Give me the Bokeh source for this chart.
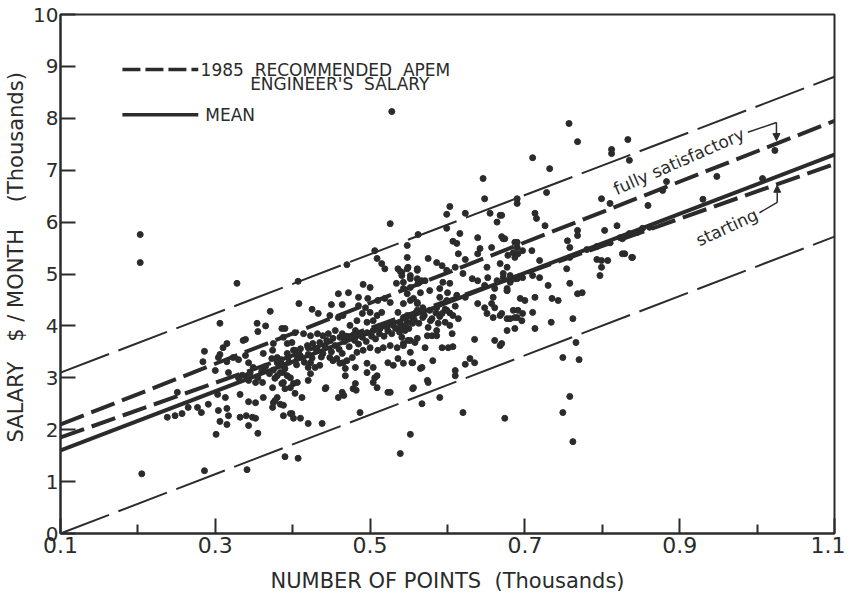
from bokeh.plotting import figure
from bokeh.models import Range1d, FixedTicker, Label, Arrow, NormalHead
from bokeh.embed import file_html
from bokeh.resources import INLINE

INK = "#2b2b2b"
FONT = "DejaVu Sans"
SP = "\u00a0"

# ---- axes ----
x_ticks = [0.1, 0.3, 0.5, 0.7, 0.9, 1.1]
x_minor = [0.2, 0.4, 0.6, 0.8, 1.0]
y_ticks = [0, 1, 2, 3, 4, 5, 6, 7, 8, 9, 10]

# ---- reference lines (values at x = 0.1 and x = 1.1) ----
line_x = [0.1, 1.1]
upper_band = [3.1, 8.8]
lower_band = [0.0, 5.72]
mean_line = [1.6, 7.3]
apem_full = [2.1, 7.95]
apem_start = [1.85, 7.12]

# ---- scatter points ----
sparse_pts = [
    (0.203, 5.76), (0.203, 5.22), (0.205, 1.15), (0.528, 8.13), (0.526, 5.97), (0.646, 6.84),
    (0.648, 6.45), (0.71, 7.24), (0.732, 7.03), (0.728, 6.57), (0.69, 6.45), (0.69, 6.36),
    (0.799, 6.45), (0.81, 6.36), (0.757, 7.9), (0.768, 7.55), (0.812, 7.4), (0.812, 7.32),
    (0.833, 7.59), (0.835, 7.19), (0.883, 6.78), (0.878, 6.61), (0.859, 6.32), (0.948, 6.88),
    (0.93, 6.44), (1.007, 6.84), (1.023, 7.38), (0.829, 5.39), (0.839, 5.32), (0.823, 5.7),
    (0.835, 5.78), (0.845, 5.8), (0.852, 5.88), (0.861, 5.9), (0.328, 4.82), (0.506, 5.45),
    (0.286, 1.21), (0.341, 1.23), (0.39, 1.48), (0.407, 1.45), (0.539, 1.54), (0.762, 1.77),
    (0.749, 2.33), (0.758, 2.64), (0.674, 2.22), (0.62, 2.33), (0.552, 1.91),
]

left_pts = [
    (0.371, 4.28), (0.306, 4.05), (0.365, 4.0), (0.355, 3.89), (0.39, 3.95), (0.339, 3.74),
    (0.315, 3.66), (0.31, 3.58), (0.286, 3.51), (0.306, 3.45), (0.284, 3.31), (0.315, 3.31),
    (0.33, 3.35), (0.343, 3.29), (0.362, 3.47), (0.373, 3.37), (0.38, 3.29), (0.388, 3.24),
    (0.394, 3.39), (0.384, 3.10), (0.393, 3.04), (0.377, 2.99), (0.388, 2.91), (0.397, 2.81),
    (0.3, 3.14), (0.317, 3.10), (0.341, 3.04), (0.343, 2.95), (0.33, 3.0), (0.352, 2.91),
    (0.361, 2.91), (0.251, 2.72), (0.303, 2.68), (0.313, 2.62), (0.332, 2.68), (0.343, 2.54),
    (0.352, 2.52), (0.362, 2.62), (0.377, 2.56), (0.374, 2.43), (0.384, 2.49), (0.388, 2.27),
    (0.291, 2.49), (0.277, 2.43), (0.282, 2.33), (0.265, 2.43), (0.304, 2.37), (0.315, 2.41),
    (0.317, 2.27), (0.257, 2.31), (0.248, 2.27), (0.238, 2.24), (0.332, 2.24), (0.34, 2.27),
    (0.348, 2.24), (0.352, 2.22), (0.306, 2.16), (0.315, 2.1), (0.343, 2.08), (0.301, 1.91),
    (0.355, 1.93), (0.388, 3.78), (0.393, 3.66), (0.397, 2.31), (0.401, 2.22),
    (0.323, 3.39), (0.339, 3.43), (0.304, 3.39), (0.349, 3.2), (0.362, 3.18), (0.401, 2.89),
    (0.336, 3.72), (0.354, 4.05),
]

mid_pts = [
    (0.548, 5.32), (0.509, 5.3), (0.515, 5.2), (0.47, 5.18), (0.519, 5.1), (0.549, 5.13),
    (0.561, 5.1), (0.539, 5.05), (0.541, 4.97), (0.407, 4.86), (0.534, 4.82), (0.543, 4.84),
    (0.552, 4.91), (0.562, 4.82), (0.491, 4.8), (0.5, 4.74), (0.459, 4.62), (0.472, 4.64),
    (0.485, 4.55), (0.497, 4.53), (0.51, 4.49), (0.519, 4.53), (0.526, 4.45), (0.548, 4.62),
    (0.556, 4.53), (0.561, 4.43), (0.408, 4.43), (0.45, 4.41), (0.464, 4.41), (0.485, 4.39),
    (0.494, 4.35), (0.425, 4.32), (0.433, 4.24), (0.448, 4.2), (0.459, 4.16), (0.465, 4.2),
    (0.49, 4.24), (0.5, 4.26), (0.509, 4.2), (0.515, 4.26), (0.536, 4.26), (0.543, 4.16),
    (0.552, 4.2), (0.561, 4.3), (0.483, 4.1), (0.496, 4.07), (0.504, 4.1), (0.474, 4.01),
    (0.481, 3.91), (0.386, 3.95), (0.403, 3.87), (0.414, 3.85), (0.423, 3.81), (0.432, 3.85),
    (0.439, 3.81), (0.446, 3.85), (0.455, 3.91), (0.464, 3.85), (0.47, 3.78),
    (0.38, 3.39), (0.393, 3.47), (0.401, 3.53), (0.41, 3.56), (0.419, 3.62), (0.426, 3.66),
    (0.435, 3.68), (0.444, 3.72), (0.452, 3.76), (0.461, 3.78), (0.47, 3.8), (0.478, 3.82),
    (0.487, 3.85), (0.496, 3.87), (0.504, 3.91), (0.513, 3.95), (0.522, 3.97), (0.53, 4.01),
    (0.539, 4.05), (0.548, 4.07), (0.555, 4.1),
    (0.42, 3.58), (0.432, 3.53), (0.439, 3.47), (0.448, 3.39), (0.457, 3.37), (0.464, 3.47),
    (0.47, 3.33), (0.477, 3.39), (0.483, 3.49), (0.491, 3.53), (0.5, 3.58), (0.51, 3.53),
    (0.517, 3.58), (0.526, 3.62), (0.535, 3.58), (0.543, 3.66), (0.552, 3.72), (0.561, 3.76),
    (0.399, 3.68), (0.403, 3.53), (0.406, 3.39), (0.375, 3.66), (0.374, 3.53), (0.38, 3.33),
    (0.386, 3.24), (0.423, 3.29), (0.429, 3.2), (0.461, 3.28), (0.468, 3.18), (0.468, 3.04),
    (0.496, 3.28), (0.504, 3.2), (0.509, 3.04), (0.504, 2.91), (0.509, 2.81), (0.536, 3.37),
    (0.53, 3.24), (0.543, 3.28), (0.554, 3.29), (0.388, 3.1), (0.397, 3.0), (0.406, 2.91),
    (0.423, 3.08), (0.42, 2.95), (0.38, 3.04), (0.386, 2.89), (0.39, 2.79), (0.403, 2.7),
    (0.412, 2.62), (0.374, 2.81), (0.38, 2.62), (0.375, 2.52), (0.388, 2.47), (0.399, 2.31),
    (0.443, 2.81), (0.459, 2.62), (0.466, 2.66), (0.481, 2.89), (0.482, 2.76), (0.523, 2.72),
    (0.556, 2.81), (0.487, 2.33), (0.41, 2.22), (0.42, 2.12), (0.438, 2.12),
    (0.42, 3.2), (0.435, 3.24), (0.452, 3.33), (0.465, 3.29), (0.481, 3.2), (0.496, 3.1),
    (0.506, 3.0), (0.523, 3.29), (0.565, 3.18), (0.574, 2.95), (0.526, 2.72), (0.442, 2.79),
    (0.464, 2.72), (0.478, 2.79), (0.536, 5.1), (0.541, 5.03), (0.561, 4.91), (0.567, 4.87),
]

core_pts = [
    (0.335, 3.05), (0.345, 3.1), (0.355, 3.0), (0.36, 3.12), (0.365, 3.22), (0.37, 3.08),
    (0.375, 3.15), (0.385, 3.35), (0.39, 3.18), (0.395, 3.3), (0.405, 3.25), (0.41, 3.42),
    (0.415, 3.3), (0.42, 3.45), (0.425, 3.38), (0.43, 3.55), (0.437, 3.4), (0.442, 3.6),
    (0.45, 3.5), (0.455, 3.62), (0.46, 3.55), (0.467, 3.7), (0.473, 3.6), (0.48, 3.72),
    (0.485, 3.65), (0.49, 3.78), (0.495, 3.7), (0.502, 3.8), (0.507, 3.75), (0.512, 3.85),
    (0.518, 3.8), (0.523, 3.9), (0.528, 3.85), (0.533, 3.95), (0.538, 3.88), (0.545, 4.0),
    (0.55, 3.95), (0.557, 4.12), (0.563, 4.05), (0.57, 4.2), (0.578, 4.1), (0.585, 4.25),
    (0.59, 4.18), (0.597, 4.32), (0.603, 4.25), (0.61, 4.38),
]

right_mid_pts = [
    (0.603, 6.3), (0.599, 6.15), (0.623, 6.17), (0.655, 6.17), (0.668, 6.13), (0.664, 6.0),
    (0.562, 5.76), (0.599, 5.88), (0.616, 5.78), (0.607, 5.63), (0.612, 5.59), (0.639, 5.7),
    (0.67, 5.72), (0.674, 5.68), (0.642, 5.49), (0.639, 5.39), (0.657, 5.51), (0.687, 5.61),
    (0.69, 5.51), (0.685, 5.41), (0.691, 5.39), (0.548, 5.55), (0.614, 5.39), (0.575, 5.3),
    (0.586, 5.22), (0.593, 5.16), (0.623, 5.28), (0.651, 5.13), (0.668, 5.2), (0.677, 5.13),
    (0.599, 5.07), (0.61, 5.13), (0.62, 5.01), (0.632, 4.91), (0.639, 4.87), (0.548, 5.1),
    (0.561, 5.07), (0.552, 4.97), (0.562, 4.87), (0.571, 4.87), (0.594, 4.84), (0.603, 4.82),
    (0.652, 4.93), (0.664, 4.87), (0.672, 4.93), (0.681, 4.84), (0.69, 4.91), (0.648, 4.78),
    (0.661, 4.72), (0.677, 4.72), (0.543, 4.72), (0.552, 4.74), (0.565, 4.64), (0.577, 4.68),
    (0.59, 4.72), (0.6, 4.64), (0.612, 4.59), (0.623, 4.55), (0.59, 4.55), (0.599, 4.49),
    (0.677, 4.68), (0.659, 4.55), (0.657, 4.43), (0.661, 4.35), (0.639, 4.43), (0.648, 4.35),
    (0.651, 4.24), (0.659, 4.16), (0.668, 4.2), (0.677, 4.14), (0.687, 4.16), (0.691, 4.3),
    (0.543, 4.43), (0.552, 4.49), (0.561, 4.45), (0.568, 4.35), (0.577, 4.3), (0.586, 4.35),
    (0.593, 4.24), (0.599, 4.3), (0.607, 4.2), (0.614, 4.14), (0.548, 4.2), (0.558, 4.24),
    (0.568, 4.16), (0.58, 4.14), (0.588, 4.05), (0.597, 4.07), (0.603, 4.01), (0.555, 4.05),
    (0.575, 3.97), (0.586, 3.91), (0.539, 3.97), (0.545, 3.91), (0.541, 3.78), (0.549, 3.72),
    (0.543, 3.62), (0.552, 3.49), (0.574, 3.81), (0.58, 3.81), (0.586, 3.81), (0.606, 3.85),
    (0.558, 3.68), (0.571, 3.58), (0.593, 3.58), (0.601, 3.58), (0.607, 3.6), (0.635, 3.74),
    (0.661, 3.72), (0.668, 3.62), (0.555, 3.29), (0.581, 3.33), (0.567, 3.2), (0.623, 3.26),
    (0.629, 3.37), (0.635, 3.29), (0.61, 3.14), (0.61, 3.04), (0.575, 2.91), (0.555, 2.79),
    (0.59, 2.62), (0.567, 2.5),
]

right_pts = [
    (0.67, 6.13), (0.713, 6.17), (0.715, 6.07), (0.726, 5.93), (0.768, 5.84), (0.768, 5.74),
    (0.803, 5.84), (0.819, 5.93), (0.672, 5.68), (0.69, 5.61), (0.678, 5.36), (0.687, 5.32),
    (0.697, 5.45), (0.709, 5.45), (0.755, 5.64), (0.758, 5.51), (0.719, 5.26), (0.754, 5.1),
    (0.758, 5.32), (0.793, 5.28), (0.799, 5.26), (0.799, 5.13), (0.797, 4.97), (0.807, 5.26),
    (0.826, 5.39), (0.838, 5.32), (0.672, 5.01), (0.681, 4.97), (0.687, 4.91), (0.697, 4.93),
    (0.71, 4.97), (0.719, 4.93), (0.73, 4.78), (0.758, 4.82), (0.677, 4.68), (0.694, 4.53),
    (0.7, 4.49), (0.713, 4.55), (0.735, 4.53), (0.743, 4.49), (0.768, 4.62), (0.774, 4.64),
    (0.67, 4.24), (0.685, 4.3), (0.69, 4.16), (0.697, 4.24), (0.681, 4.14), (0.696, 4.1),
    (0.71, 4.26), (0.677, 3.91), (0.687, 3.95), (0.713, 3.95), (0.734, 4.07), (0.762, 4.14),
    (0.67, 3.66), (0.766, 3.68), (0.749, 3.39), (0.77, 3.35), (0.78, 5.47), (0.793, 5.53),
    (0.81, 5.6), (0.826, 5.68),
]

# ---- legend / annotation geometry (data units) ----
legend_line_x = [0.18, 0.278]
legend_dash_y = 8.94
legend_dash_y2 = 8.67
legend_mean_y = 8.07
full_bracket_x = [0.988, 1.025]
full_bracket_y = [7.73, 7.92]
full_arrow_tip = 7.57
start_bracket_x = [1.003, 1.026]
start_bracket_y = [6.18, 6.38]
start_arrow_tip = 6.71

all_pts = sparse_pts + left_pts + mid_pts + core_pts + right_mid_pts + right_pts
px = [p[0] for p in all_pts]
py = [p[1] for p in all_pts]

p = figure(width=845, height=600, output_backend="svg", toolbar_location=None,
           x_range=Range1d(0.1, 1.1), y_range=Range1d(0, 10),
           min_border_left=60, min_border_right=11, min_border_top=14, min_border_bottom=67,
           background_fill_color="white", border_fill_color="white")
p.grid.visible = False
p.outline_line_color = INK
p.outline_line_width = 2

# axes
p.xaxis.ticker = FixedTicker(ticks=x_ticks, minor_ticks=x_minor)
p.yaxis.ticker = FixedTicker(ticks=y_ticks)
for ax in (p.xaxis, p.yaxis):
    ax.axis_line_color = INK
    ax.axis_line_width = 2
    ax.major_tick_line_color = INK
    ax.major_tick_line_width = 2
    ax.major_tick_in = 15
    ax.major_tick_out = 0
    ax.major_label_text_font = FONT
    ax.major_label_text_color = INK
    ax.axis_label_text_font = FONT
    ax.axis_label_text_color = INK
    ax.axis_label_text_font_style = "normal"
p.xaxis.minor_tick_line_color = INK
p.xaxis.minor_tick_line_width = 2
p.xaxis.minor_tick_in = 9
p.xaxis.minor_tick_out = 0
p.yaxis.minor_tick_line_color = None
p.xaxis.major_label_text_font_size = "22px"
p.xaxis.major_label_standoff = 3
p.xaxis.axis_label = "NUMBER" + SP + "OF" + SP + "POINTS" + SP * 2 + "(Thousands)"
p.xaxis.axis_label_text_font_size = "21px"
p.xaxis.axis_label_standoff = 13
p.yaxis.major_label_text_font_size = "20px"
p.yaxis.major_label_standoff = 2
p.yaxis.axis_label = (SP * 5 + "SALARY" + SP * 3 + "$" + SP + "/" + SP + "MONTH"
                      + SP * 4 + "(Thousands)")
p.yaxis.axis_label_text_font_size = "21px"
p.yaxis.axis_label_standoff = 2

# band lines
p.line(line_x, upper_band, line_color=INK, line_width=2, line_dash="52 10")
p.line(line_x, lower_band, line_color=INK, line_width=2, line_dash="52 10")
p.line(line_x, apem_full, line_color=INK, line_width=4, line_dash="25 8")
p.line(line_x, apem_start, line_color=INK, line_width=4, line_dash="25 8")
p.line(line_x, mean_line, line_color=INK, line_width=4)

# points
p.scatter(px, py, size=6, fill_color=INK, line_color=INK)

# legend
p.line(legend_line_x, [legend_dash_y, legend_dash_y], line_color=INK, line_width=3.5, line_dash="18 5")
p.line(legend_line_x, [legend_mean_y, legend_mean_y], line_color=INK, line_width=3.5)
p.add_layout(Label(x=0.281, y=legend_dash_y, text="1985" + SP * 2 + "RECOMMENDED" + SP * 2 + "APEM",
                   text_font=FONT, text_font_size="17px", text_color=INK, text_baseline="middle"))
p.add_layout(Label(x=0.345, y=legend_dash_y2, text="ENGINEER'S" + SP * 2 + "SALARY",
                   text_font=FONT, text_font_size="17px", text_color=INK, text_baseline="middle"))
p.add_layout(Label(x=0.287, y=legend_mean_y, text="MEAN", text_font=FONT,
                   text_font_size="17px", text_color=INK, text_baseline="middle"))

# annotations
p.add_layout(Label(x=0.899, y=7.17, text="fully satisfactory", angle=23.7, angle_units="deg",
                   text_font=FONT, text_font_size="17px", text_color=INK,
                   text_align="center", text_baseline="middle"))
p.add_layout(Label(x=0.961, y=5.9, text="starting", angle=24.8, angle_units="deg",
                   text_font=FONT, text_font_size="17px", text_color=INK,
                   text_align="center", text_baseline="middle"))
p.line(full_bracket_x, full_bracket_y, line_color=INK, line_width=1.5)
p.add_layout(Arrow(end=NormalHead(size=7, fill_color=INK, line_color=INK),
                   x_start=full_bracket_x[1], y_start=full_bracket_y[1],
                   x_end=full_bracket_x[1], y_end=full_arrow_tip,
                   line_color=INK, line_width=1.5))
p.line(start_bracket_x, start_bracket_y, line_color=INK, line_width=1.5)
p.add_layout(Arrow(end=NormalHead(size=7, fill_color=INK, line_color=INK),
                   x_start=start_bracket_x[1], y_start=start_bracket_y[1],
                   x_end=start_bracket_x[1], y_end=start_arrow_tip,
                   line_color=INK, line_width=1.5))

open("out.html", "w").write(file_html(p, INLINE))
